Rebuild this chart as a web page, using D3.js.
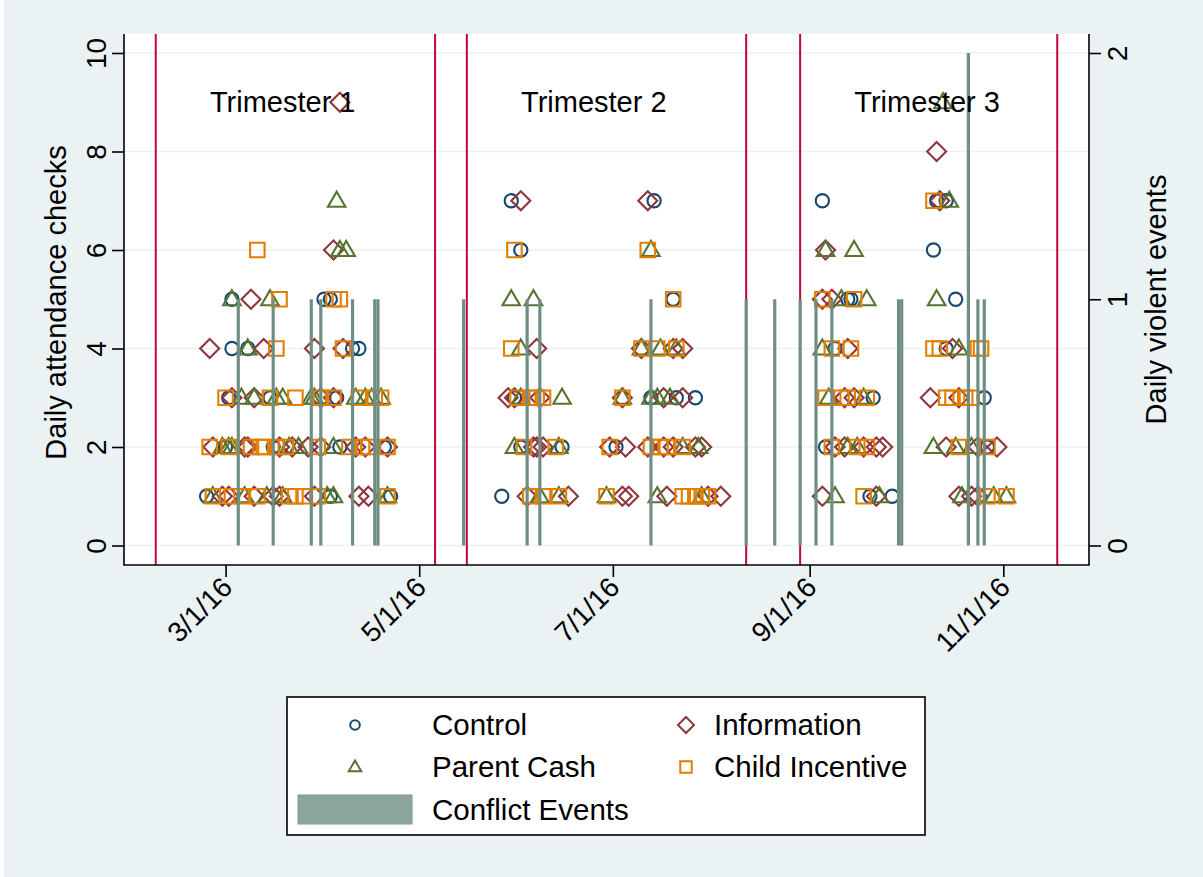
<!DOCTYPE html>
<html>
<head>
<meta charset="utf-8">
<script src="https://cdn.jsdelivr.net/npm/d3@7"></script>
<style>
  body { margin: 0; background: #ffffff; }
  text { font-family: "Liberation Sans", Arial, sans-serif; fill: #000; }
</style>
</head>
<body>
<svg id="chart" width="1203" height="877"></svg>
<script>
// ---- data (dates are 2016, "M/D") ----
const controlPts = [
  ["3/3",5],["4/1",5],["4/3",5],["3/3",4],["3/8",4],["4/10",4],["4/12",4],
  ["3/2",3],["3/15",3],["4/5",3],["3/1",2],["3/16",2],["4/6",2],["4/20",2],
  ["2/24",1],["4/3",1],["4/22",1],
  ["5/30",7],["7/14",7],["6/2",6],["7/20",5],["5/31",3],["7/13",3],["7/21",3],
  ["7/27",3],["6/2",2],["6/15",2],["7/2",2],["5/27",1],
  ["9/5",7],["10/11",7],["10/14",7],["10/10",6],["9/13",5],["9/14",5],["10/17",5],
  ["9/9",4],["10/14",4],["9/21",3],["10/26",3],["9/6",2],["10/27",2],["9/20",1],["9/27",1]
];
const informationPts = [
  ["4/6",9],["4/4",6],["3/9",5],["2/25",4],["3/13",4],["3/29",4],["4/7",4],
  ["3/3",3],["3/10",3],["3/31",3],["4/4",3],["2/26",2],["3/7",2],["3/8",2],
  ["3/18",2],["3/22",2],["3/27",2],["3/31",2],["4/11",2],["4/14",2],["4/21",2],
  ["2/29",1],["3/2",1],["3/10",1],["3/16",1],["3/18",1],["3/29",1],["4/12",1],["4/15",1],
  ["6/2",7],["7/12",7],["6/7",4],["7/10",4],["7/20",4],["7/23",4],["5/29",3],
  ["5/31",3],["6/8",3],["7/4",3],["7/17",3],["7/23",3],["6/6",2],["6/7",2],["6/9",2],
  ["6/30",2],["7/5",2],["7/12",2],["7/17",2],["7/20",2],["7/27",2],["7/29",2],
  ["6/4",1],["6/17",1],["7/4",1],["7/6",1],["7/18",1],["7/31",1],["8/4",1],
  ["10/11",8],["10/12",7],["9/6",6],["9/5",5],["9/8",5],["9/13",4],["10/16",4],
  ["9/12",3],["9/15",3],["10/9",3],["10/18",3],["9/9",2],["9/12",2],["9/18",2],
  ["9/22",2],["9/24",2],["10/14",2],["10/24",2],["10/30",2],["9/5",1],["9/22",1],
  ["10/18",1],["10/22",1],["10/24",1]
];
const parentCashPts = [
  ["4/5",7],["4/6",6],["4/8",6],["3/3",5],["3/15",5],["3/8",4],["3/6",3],["3/10",3],
  ["3/17",3],["3/19",3],["3/28",3],["3/29",3],["4/11",3],["4/14",3],["4/16",3],["4/19",3],
  ["2/29",2],["3/2",2],["3/3",2],["3/21",2],["3/24",2],["4/4",2],["2/26",1],["3/7",1],
  ["3/14",1],["3/19",1],["4/2",1],["4/4",1],["4/21",1],
  ["7/13",6],["5/30",5],["6/6",5],["6/2",4],["7/10",4],["7/16",4],["7/21",4],["6/2",3],
  ["6/15",3],["7/4",3],["7/13",3],["7/15",3],["7/19",3],["5/31",2],["6/14",2],["7/23",2],
  ["7/28",2],["6/8",1],["6/14",1],["6/29",1],["7/15",1],["7/29",1],
  ["10/13",9],["10/15",7],["9/6",6],["9/15",6],["9/11",5],["9/19",5],["10/11",5],
  ["9/5",4],["10/18",4],["9/7",3],["9/18",3],["9/13",2],["9/16",2],["10/10",2],
  ["10/17",2],["10/22",2],["9/9",1],["9/23",1],["10/19",1],["10/29",1],["11/2",1]
];
const childIncentivePts = [
  ["3/11",6],["3/18",5],["4/4",5],["4/6",5],["3/17",4],["4/7",4],["3/1",3],["3/15",3],
  ["3/23",3],["3/31",3],["4/4",3],["4/12",3],["4/17",3],["4/19",3],["2/25",2],["3/2",2],
  ["3/9",2],["3/12",2],["3/13",2],["3/17",2],["3/20",2],["3/30",2],["4/9",2],["4/13",2],
  ["4/15",2],["4/21",2],["2/26",1],["3/3",1],["3/6",1],["3/11",1],["3/21",1],["3/23",1],
  ["3/26",1],["3/30",1],["4/21",1],
  ["5/31",6],["7/12",6],["7/20",5],["5/30",4],["7/10",4],["7/15",4],["7/21",4],["6/1",3],
  ["6/5",3],["6/7",3],["6/9",3],["7/4",3],["6/3",2],["6/13",2],["6/30",2],["7/13",2],
  ["7/16",2],["7/18",2],["7/23",2],["6/5",1],["6/9",1],["6/14",1],["6/29",1],["7/23",1],
  ["7/25",1],["7/27",1],["7/29",1],["7/31",1],
  ["10/10",7],["9/5",5],["9/15",5],["9/8",4],["9/14",4],["10/10",4],["10/12",4],
  ["10/24",4],["10/25",4],["9/6",3],["9/11",3],["9/13",3],["9/19",3],["10/14",3],
  ["10/16",3],["10/20",3],["10/22",3],["9/8",2],["9/16",2],["9/19",2],["10/18",2],
  ["10/27",2],["9/18",1],["10/27",1],["11/2",1]
];
const conflictDates = ["3/5","3/16","3/28","3/31","4/10","4/17","4/18","5/15","6/4","6/8",
  "7/13","8/12","8/21","8/29","9/3","9/8","9/29","9/30","10/21","10/24","10/26"];
const conflictValues = [1,1,1,1,1,1,1,1,1,1,1,1,1,1,1,1,1,1,2,1,1];
const trimesterBreaks = ["2/8","5/6","5/16","8/12","8/29","11/18"];
const trimesterLabels = ["Trimester 1","Trimester 2","Trimester 3"];
const trimesterLabelDates = ["3/19","6/25","10/8"];
const xTickDates = ["3/1","5/1","7/1","9/1","11/1"];
const yTicksLeft = [0,2,4,6,8,10];
const yTicksRight = [0,1,2];

const parse = s => { const [m, d] = s.split("/").map(Number); return new Date(2016, m - 1, d); };

const svg = d3.select("#chart");
const W = 1203, H = 877;
const plot = { left: 124, right: 1089, top: 34, bottom: 565 };

const x = d3.scaleTime()
  .domain([new Date(2016, 0, 29), new Date(2016, 10, 28)])
  .range([plot.left, plot.right]);
const yL = d3.scaleLinear().domain([0, 10]).range([545.5, 53]);
const yR = d3.scaleLinear().domain([0, 2]).range([545.5, 53]);
const dayW = x(new Date(2016, 2, 2)) - x(new Date(2016, 2, 1));

const bg = '#eaf2f3';
svg.append('rect').attr('x', 4).attr('y', 0).attr('width', W - 4).attr('height', H).attr('fill', bg);
svg.append('rect')
  .attr('x', plot.left).attr('y', plot.top)
  .attr('width', plot.right - plot.left).attr('height', plot.bottom - plot.top)
  .attr('fill', '#fff');

// gridlines
svg.append('g').selectAll('line')
  .data(yTicksLeft)
  .enter().append('line')
  .attr('x1', plot.left).attr('x2', plot.right)
  .attr('y1', d => yL(d)).attr('y2', d => yL(d))
  .attr('stroke', bg).attr('stroke-width', 1.6);

// trimester break lines
svg.append('g').selectAll('line')
  .data(trimesterBreaks.map(parse))
  .enter().append('line')
  .attr('x1', d => x(d)).attr('x2', d => x(d))
  .attr('y1', plot.top).attr('y2', plot.bottom)
  .attr('stroke', '#c10534').attr('stroke-width', 2);

// marker shapes
const shapes = {
  circle: r => `M${r},0A${r},${r} 0 1,1 ${-r},0A${r},${r} 0 1,1 ${r},0Z`,
  diamond: h => `M0,${-h}L${h},0L0,${h}L${-h},0Z`,
  triangle: s => { const h = s * Math.sqrt(3) / 2; return `M0,${-h * 0.6}L${s / 2},${h * 0.4}L${-s / 2},${h * 0.4}Z`; },
  square: s => `M${-s / 2},${-s / 2}h${s}v${s}h${-s}Z`
};

const series = [
  { name: 'Control', pts: controlPts, shape: 'circle', size: 6.6, lsize: 4.8, color: '#1a476f' },
  { name: 'Information', pts: informationPts, shape: 'diamond', size: 9.5, lsize: 8, color: '#90353b' },
  { name: 'Parent Cash', pts: parentCashPts, shape: 'triangle', size: 17.5, lsize: 12.5, color: '#55752f' },
  { name: 'Child Incentive', pts: childIncentivePts, shape: 'square', size: 14.5, lsize: 11.5, color: '#e37e00' }
];

series.forEach(s => {
  svg.append('g').selectAll('path')
    .data(s.pts)
    .enter().append('path')
    .attr('d', shapes[s.shape](s.size))
    .attr('transform', d => `translate(${x(parse(d[0]))},${yL(d[1])})`)
    .attr('fill', 'none')
    .attr('stroke', s.color)
    .attr('stroke-width', 2.1);
});

// conflict events bars (right axis)
const barColor = '#6e8e84';
svg.append('g').selectAll('rect')
  .data(conflictDates.map((d, i) => ({ date: parse(d), v: conflictValues[i] })))
  .enter().append('rect')
  .attr('x', d => x(d.date) - dayW / 2)
  .attr('width', dayW)
  .attr('y', d => yR(d.v))
  .attr('height', d => yR(0) - yR(d.v))
  .attr('fill', barColor);

// trimester labels
svg.append('g').selectAll('text')
  .data(trimesterLabels)
  .enter().append('text')
  .attr('x', (d, i) => x(parse(trimesterLabelDates[i])))
  .attr('y', yL(9) + 10)
  .attr('text-anchor', 'middle')
  .attr('font-size', 29)
  .text(d => d);

// axes lines
const axisLines = svg.append('g').attr('stroke', '#000').attr('stroke-width', 1.6);
axisLines.append('line').attr('x1', plot.left).attr('x2', plot.left).attr('y1', plot.top).attr('y2', plot.bottom);
axisLines.append('line').attr('x1', plot.right).attr('x2', plot.right).attr('y1', plot.top).attr('y2', plot.bottom);
axisLines.append('line').attr('x1', plot.left - 0.8).attr('x2', plot.right + 0.8).attr('y1', plot.bottom).attr('y2', plot.bottom);

const xAxis = svg.append('g')
  .attr('transform', `translate(0,${plot.bottom})`)
  .call(d3.axisBottom(x).tickValues(xTickDates.map(parse)).tickSize(12).tickSizeOuter(0)
    .tickFormat(d3.timeFormat('%-m/%-d/%y')));
xAxis.select('.domain').remove();
xAxis.selectAll('line').attr('stroke-width', 1.6);
xAxis.selectAll('text')
  .attr('y', 0).attr('dy', 0)
  .attr('text-anchor', 'end')
  .attr('font-size', 28)
  .attr('transform', 'translate(8,24) rotate(-45)');

const yAxisL = svg.append('g')
  .attr('transform', `translate(${plot.left},0)`)
  .call(d3.axisLeft(yL).tickValues(yTicksLeft).tickSize(12).tickFormat(d3.format('d')));
yAxisL.select('.domain').remove();
yAxisL.selectAll('line').attr('stroke-width', 1.6);
yAxisL.selectAll('text')
  .attr('x', 0).attr('dy', 0)
  .attr('text-anchor', 'middle')
  .attr('font-size', 28)
  .attr('transform', 'translate(-18,0) rotate(-90)');

const yAxisR = svg.append('g')
  .attr('transform', `translate(${plot.right},0)`)
  .call(d3.axisRight(yR).tickValues(yTicksRight).tickSize(12).tickFormat(d3.format('d')));
yAxisR.select('.domain').remove();
yAxisR.selectAll('line').attr('stroke-width', 1.6);
yAxisR.selectAll('text')
  .attr('x', 0).attr('dy', 0)
  .attr('text-anchor', 'middle')
  .attr('font-size', 28)
  .attr('transform', 'translate(38,0) rotate(-90)');

// axis titles
svg.append('text')
  .attr('transform', `translate(66,${(plot.top + plot.bottom) / 2 + 3}) rotate(-90)`)
  .attr('text-anchor', 'middle').attr('font-size', 29)
  .text('Daily attendance checks');
svg.append('text')
  .attr('transform', `translate(1166,${(plot.top + plot.bottom) / 2}) rotate(-90)`)
  .attr('text-anchor', 'middle').attr('font-size', 29)
  .text('Daily violent events');

// legend
const legend = svg.append('g');
legend.append('rect')
  .attr('x', 287).attr('y', 697).attr('width', 638).attr('height', 138)
  .attr('fill', '#fff').attr('stroke', '#000').attr('stroke-width', 1.6);
const legendCols = [355, 686];
const legendTextX = [432, 714];
const legendRows = [725, 767];
series.forEach((s, i) => {
  const col = i % 2, row = Math.floor(i / 2);
  legend.append('path')
    .attr('d', shapes[s.shape](s.lsize))
    .attr('transform', `translate(${legendCols[col]},${legendRows[row]})`)
    .attr('fill', 'none').attr('stroke', s.color).attr('stroke-width', 2);
  legend.append('text')
    .attr('x', legendTextX[col]).attr('y', legendRows[row] + 10)
    .attr('font-size', 29.5)
    .text(s.name);
});
legend.append('rect')
  .attr('x', 298).attr('y', 795).attr('width', 114).attr('height', 29)
  .attr('fill', '#8da69c').attr('stroke', '#7f9a90').attr('stroke-width', 1);
legend.append('text')
  .attr('x', 432).attr('y', 820)
  .attr('font-size', 29.5)
  .text('Conflict Events');
</script>
</body>
</html>
